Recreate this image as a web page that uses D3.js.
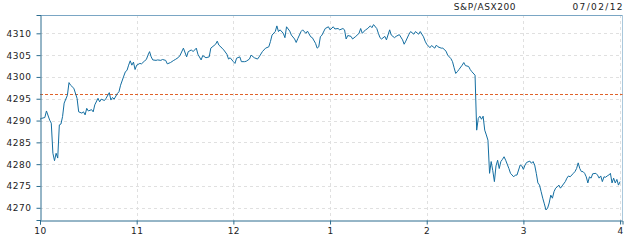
<html>
<head>
  <title>S&amp;P/ASX200 intraday</title>
  <script src="https://d3js.org/d3.v7.min.js"></script>
  <style>
    body { margin: 0; background: #fff; }
    .chart text { font-family: "DejaVu Sans", Verdana, sans-serif; font-size: 9px; fill: #222; }
    .chart .title { letter-spacing: 0.6px; }
    .chart .date { letter-spacing: 1.4px; }
  </style>
</head>
<body>
<div class="chart"></div>
<script>
// minutes after 10:00
var minutes = [0,1,3,4,6,7,8,9,10,11,12,13,14,15,17,18,19,21,23,24,26,27,28,29,30,32,33,34,36,37,38,40,41,43,44,45,46,48,49,50,
  52,53,54,55,56,57,58,59,60,62,63,65,66,67,68,69,70,72,73,75,76,78,79,81,83,84,86,87,89,91,92,94,95,97,98,100,101,103,105,106,
  108,109,110,111,113,114,116,117,118,120,121,122,124,125,127,128,130,131,133,135,136,138,140,142,143,144,146,147,148,149,151,152,153,155,156,158,159,160,162,163,
  165,166,168,169,171,172,173,174,175,177,179,180,182,183,185,186,188,189,190,191,193,194,196,198,199,200,202,203,205,206,207,209,210,211,212,214,215,217,218,220,
  221,223,225,226,227,229,230,232,233,235,236,238,239,240,242,243,245,246,247,249,250,252,253,255,256,257,258,259,260,262,263,264,266,267,268,270,271,272,273,274,
  275,276,277,278,279,280,281,282,283,284,285,286,287,288,289,291,292,294,295,296,298,299,300,301,302,304,305,306,307,308,309,310,311,312,313,314,315,316,317,318,
  319,320,321,322,323,324,326,327,328,329,331,332,333,334,335,336,337,338,339,340,341,342,343,345,346,347,348,349,350,351,352,353,354,355,356,357,358,359,360];

var prices = [4290.3,4290.5,4290.7,4292.2,4290.1,4289.4,4282.5,4280.8,4282.5,4281.4,4289.0,4289.2,4290.9,4294.0,4295.8,4298.7,4298.1,4297.4,4295.1,4292.0,
  4291.7,4292.0,4291.3,4292.8,4292.2,4292.5,4292.0,4293.6,4295.1,4294.3,4294.9,4294.6,4295.1,4296.4,4294.7,4295.3,4294.9,4296.2,4296.6,4298.1,
  4300.2,4301.2,4301.5,4302.7,4303.7,4302.7,4303.4,4301.7,4302.7,4303.1,4303.0,4303.7,4304.0,4305.0,4305.8,4304.6,4303.9,4303.8,4303.9,4303.8,
  4304.0,4303.8,4303.0,4303.3,4303.8,4304.0,4304.5,4305.0,4306.6,4304.6,4305.8,4306.2,4305.8,4306.6,4305.2,4303.9,4304.9,4304.4,4304.6,4306.6,
  4307.2,4307.5,4308.2,4307.3,4306.6,4306.2,4305.2,4304.1,4304.4,4303.5,4303.1,4304.3,4304.6,4303.5,4303.5,4303.6,4304.1,4305.0,4304.4,4304.1,
  4304.6,4305.8,4306.6,4306.9,4308.1,4309.6,4310.4,4311.7,4310.4,4310.8,4310.0,4309.0,4311.5,4310.5,4309.6,4308.7,4307.9,4308.8,4310.4,4310.8,
  4310.0,4310.5,4309.2,4309.0,4307.7,4306.6,4306.9,4309.2,4309.6,4311.1,4311.5,4310.8,4311.5,4311.0,4311.1,4310.8,4311.1,4310.8,4308.7,4309.5,
  4309.3,4308.7,4309.3,4310.0,4311.1,4310.0,4310.8,4311.0,4311.7,4311.3,4312.0,4311.1,4310.0,4309.0,4308.7,4309.3,4308.5,4310.8,4309.6,4309.0,
  4309.3,4309.7,4308.5,4307.5,4308.2,4309.8,4310.4,4309.8,4310.4,4309.8,4310.4,4309.2,4308.2,4307.5,4306.7,4307.2,4306.6,4307.3,4306.9,4306.6,
  4306.6,4305.9,4305.0,4304.2,4303.5,4302.1,4300.8,4301.2,4301.7,4302.7,4303.3,4302.6,4302.4,4301.7,4301.2,4300.4,4287.8,4290.5,4291.0,4290.3,
  4291.0,4287.8,4286.7,4285.5,4277.9,4280.6,4278.5,4276.0,4279.6,4280.9,4279.0,4280.6,4281.1,4281.7,4280.9,4279.0,4277.9,4277.1,4277.5,4277.5,
  4279.8,4279.6,4278.8,4279.8,4280.4,4280.7,4280.2,4280.6,4279.8,4277.9,4275.7,4275.2,4273.7,4272.2,4270.9,4269.5,4269.9,4271.1,4272.9,4272.2,
  4273.7,4274.5,4274.8,4275.2,4274.5,4275.0,4276.0,4276.8,4277.3,4277.1,4277.9,4278.3,4279.0,4280.3,4279.0,4278.3,4278.3,4277.9,4277.1,4275.7,
  4277.1,4276.8,4277.8,4277.9,4277.5,4276.8,4277.3,4276.0,4277.1,4277.0,4277.3,4277.5,4277.9,4275.7,4276.8,4275.7,4276.5,4275.2,4276.0];

var prevClose = 4296.0;
var hourTicks = [0, 60, 120, 180, 240, 300, 360];
var hourLabels = ["10", "11", "12", "1", "2", "3", "4"];
var priceTicks = [4270, 4275, 4280, 4285, 4290, 4295, 4300, 4305, 4310];
var title = "S&P/ASX200";
var dateLabel = "07/02/12";

var width = 630, height = 240;
var plotLeft = 40, plotTop = 15, plotRight = 622.5, plotBottom = 220;

var svg = d3.select(".chart").append("svg")
  .attr("width", width)
  .attr("height", height);

var x = d3.scaleLinear().domain([0, 361.5]).range([plotLeft, plotRight]);
var y = d3.scaleLinear().domain([4267.2, 4314.2]).range([plotBottom, plotTop]);

// grid
svg.append("g").selectAll("line")
  .data(priceTicks).enter().append("line")
  .attr("x1", plotLeft).attr("x2", plotRight)
  .attr("y1", function (d) { return Math.round(y(d)) + 0.5; })
  .attr("y2", function (d) { return Math.round(y(d)) + 0.5; })
  .style("stroke", "#e0e0e0").style("stroke-dasharray", "3,3");

svg.append("g").selectAll("line")
  .data(hourTicks.slice(1)).enter().append("line")
  .attr("x1", function (d) { return Math.round(x(d)) + 0.5; })
  .attr("x2", function (d) { return Math.round(x(d)) + 0.5; })
  .attr("y1", plotTop).attr("y2", plotBottom)
  .style("stroke", "#e0e0e0").style("stroke-dasharray", "3,3");

// frame top / right
svg.append("line").attr("x1", plotLeft).attr("x2", plotRight).attr("y1", plotTop + 0.5).attr("y2", plotTop + 0.5)
  .style("stroke", "#7aa6c4");
svg.append("line").attr("x1", plotRight).attr("x2", plotRight).attr("y1", plotTop).attr("y2", plotBottom)
  .style("stroke", "#a9c8dc");

// previous close
svg.append("line")
  .attr("x1", plotLeft).attr("x2", plotRight)
  .attr("y1", Math.round(y(prevClose)) + 0.5).attr("y2", Math.round(y(prevClose)) + 0.5)
  .style("stroke", "#e0622a").style("stroke-dasharray", "3,2");

// price line
var line = d3.line()
  .x(function (d, i) { return x(minutes[i]); })
  .y(function (d) { return y(d); });

svg.append("path")
  .datum(prices)
  .attr("d", line)
  .style("fill", "none")
  .style("stroke", "#146ea1")
  .style("stroke-width", 1);

// axes
svg.append("g")
  .attr("transform", "translate(" + (plotLeft + 0.5) + ",0)")
  .call(d3.axisLeft(y).tickValues(priceTicks).tickSize(4).tickPadding(5).tickFormat(d3.format("d")));

svg.append("g")
  .attr("transform", "translate(0," + (plotBottom + 0.5) + ")")
  .call(d3.axisBottom(x).tickValues(hourTicks).tickSize(4).tickPadding(3)
    .tickFormat(function (d, i) { return hourLabels[i]; }));

svg.selectAll(".domain, .tick line").style("stroke", "#2d6d8f");
svg.selectAll(".tick text").style("font-family", "DejaVu Sans, Verdana, sans-serif")
  .style("font-size", "9px").style("fill", "#222").style("letter-spacing", "0.5px");

// header
svg.append("text").attr("class", "title")
  .attr("x", 485).attr("y", 10).attr("text-anchor", "middle")
  .text(title);
svg.append("text").attr("class", "date")
  .attr("x", 624).attr("y", 10).attr("text-anchor", "end")
  .text(dateLabel);
</script>
</body>
</html>
